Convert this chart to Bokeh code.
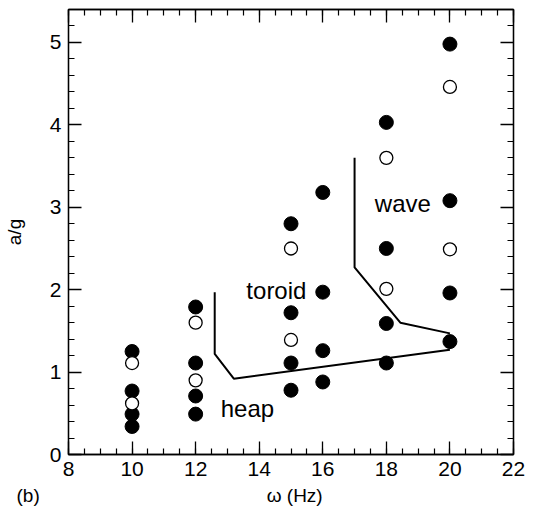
from bokeh.plotting import figure
from bokeh.models import LinearAxis, Range1d, FixedTicker, Title
from bokeh.core.properties import value
from bokeh.embed import file_html
from bokeh.resources import INLINE

# filled symbols
filled_x = [10, 10, 10, 10, 12, 12, 12, 12, 15, 15, 15, 15, 16, 16, 16, 16, 18, 18, 18, 18, 20, 20, 20, 20]
filled_y = [1.25, 0.77, 0.49, 0.34, 1.79, 1.11, 0.71, 0.49, 2.80, 1.72, 1.11, 0.78,
            3.18, 1.97, 1.26, 0.88, 4.03, 2.50, 1.59, 1.11, 4.98, 3.08, 1.96, 1.37]
# open symbols
open_x = [10, 10, 12, 12, 15, 15, 18, 18, 20, 20]
open_y = [1.11, 0.62, 1.60, 0.90, 2.50, 1.39, 3.60, 2.01, 4.46, 2.49]
# phase boundaries
heap_x = [12.6, 12.6, 13.2, 20.0]
heap_y = [1.97, 1.22, 0.92, 1.27]
wave_x = [17.0, 17.0, 18.44, 20.0]
wave_y = [3.60, 2.27, 1.60, 1.47]
# region labels
reg_text = ["toroid", "wave", "heap"]
reg_x = [14.54, 18.52, 13.63]
reg_y = [1.99, 3.04, 0.56]
x_ticks = [8, 10, 12, 14, 16, 18, 20, 22]
y_ticks = [0, 1, 2, 3, 4, 5]
panel_tag = "(b)"
x_title = "ω (Hz)"
y_title = "a/g"

FONT = "Liberation Sans"
NB = "\u00a0"

p = figure(width=530, height=510, output_backend="svg", toolbar_location=None,
           x_range=Range1d(8, 22), y_range=Range1d(0, 5.4),
           x_axis_location=None, y_axis_location=None,
           frame_width=445, frame_height=445,
           min_border_left=67, min_border_right=18, min_border_top=9, min_border_bottom=56)
p.grid.visible = False
p.outline_line_color = "black"
p.outline_line_width = 1.3
p.background_fill_color = "white"
p.border_fill_color = "white"

xt = FixedTicker(ticks=x_ticks, minor_ticks=[8 + 0.5 * i for i in range(29)])
yt = FixedTicker(ticks=y_ticks, minor_ticks=[0.2 * i for i in range(28)])

def style(ax, labels=True):
    ax.axis_line_color = "black"
    ax.axis_line_width = 1.3
    ax.major_tick_in = 13
    ax.major_tick_out = 0
    ax.minor_tick_in = 6
    ax.minor_tick_out = 0
    ax.major_tick_line_width = 1.3
    ax.minor_tick_line_width = 1.2
    ax.major_tick_line_color = "black"
    ax.minor_tick_line_color = "black"
    ax.major_label_text_font = FONT
    if labels:
        ax.major_label_text_color = "black"
        ax.major_label_text_font_size = "21px"
        ax.axis_label_text_font = FONT
        ax.axis_label_text_font_size = "19px"
        ax.axis_label_text_font_style = "normal"
        ax.axis_label_text_color = "black"
    else:
        ax.major_label_text_color = None
        ax.major_label_text_font_size = "1px"
        ax.major_label_standoff = 0

bx = LinearAxis(ticker=xt)
style(bx)
bx.major_label_standoff = 7
p.add_layout(bx, "below")

# bottom row: panel tag "(b)" at the far left, x-axis title under the frame centre
p.add_layout(Title(text=panel_tag + NB * 43 + x_title, align="left", offset=-52,
                   text_font=FONT, text_font_size="19px", text_font_style="normal",
                   text_color="black", standoff=9), "below")

ly = LinearAxis(ticker=yt, axis_label=y_title)
style(ly)
ly.major_label_standoff = 7
ly.axis_label_standoff = 22
p.add_layout(ly, "left")

tx = LinearAxis(ticker=xt)
style(tx, labels=False)
p.add_layout(tx, "above")
ry = LinearAxis(ticker=yt)
style(ry, labels=False)
p.add_layout(ry, "right")

p.line(heap_x, heap_y, line_color="black", line_width=2)
p.line(wave_x, wave_y, line_color="black", line_width=2)

p.scatter(filled_x, filled_y, size=14, fill_color="black", line_color="black", line_width=1)
p.scatter(open_x, open_y, size=13, fill_color="white", line_color="black", line_width=1.3)

p.text(reg_x, reg_y, text=reg_text, text_font=value(FONT), text_font_size="24px",
       text_align="center", text_baseline="middle", text_color="black")

open("out.html", "w").write(file_html(p, INLINE))
